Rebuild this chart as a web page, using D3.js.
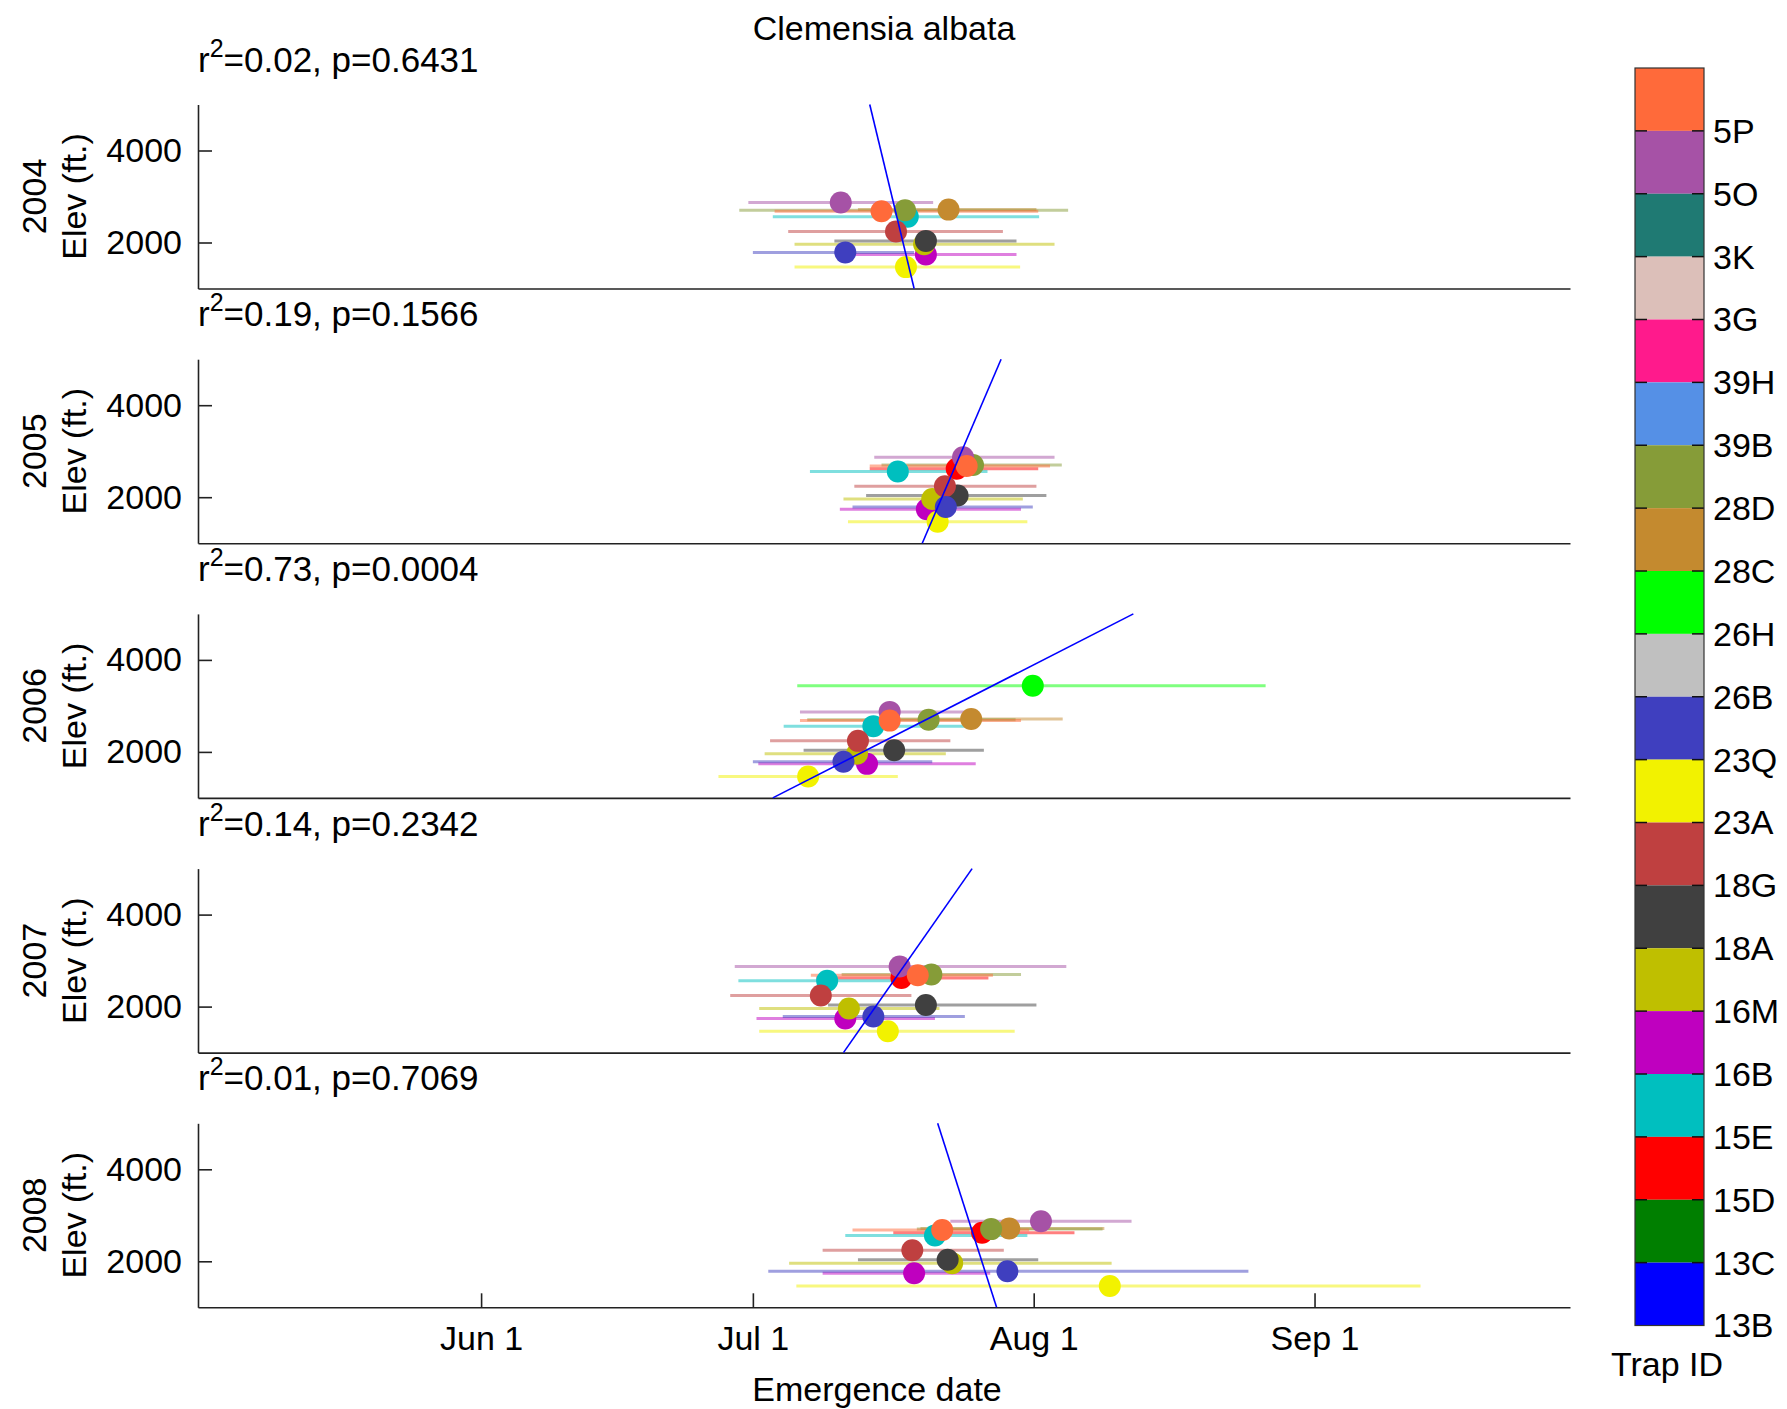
<!DOCTYPE html>
<html>
<head>
<meta charset="utf-8">
<script src="https://cdn.jsdelivr.net/npm/d3@7"></script>
<style>
  body { margin: 0; background: #fff; }
  svg text { font-family: "Liberation Sans", Arial, Helvetica, sans-serif; fill: #000; }
</style>
</head>
<body>
<div id="chart"></div>
<script>
// colorbar order, top to bottom
var trapIds = ['5P', '5O', '3K', '3G', '39H', '39B', '28D', '28C', '26H', '26B',
  '23Q', '23A', '18G', '18A', '16M', '16B', '15E', '15D', '13C', '13B'];
var trapColors = ['#ff6a3a', '#a652a6', '#1f7a73', '#dcbfb9', '#ff1a8c', '#5590e6',
  '#869c38', '#c48a2f', '#00ff00', '#c0c0c0', '#3f3fbf', '#f2f200', '#bf4040',
  '#404040', '#bfbf00', '#bf00bf', '#00bfbf', '#ff0000', '#007f00', '#0000ff'];

// trap elevations (ft)
var siteIds = ['5O', '5P', '28D', '28C', '26H', '15E', '15D', '18G', '18A', '16M', '16B', '23Q', '23A'];
var siteElev = [2870, 2680, 2700, 2715, 3440, 2560, 2620, 2240, 2035, 1960, 1740, 1785, 1465];

var years = [2004, 2005, 2006, 2007, 2008];
var rSquared = ['0.02', '0.19', '0.73', '0.14', '0.01'];
var pValues = ['0.6431', '0.1566', '0.0004', '0.2342', '0.7069'];
// regression line: day of year where it crosses 1000 ft and 5000 ft
var fitAt1000 = [199.8, 200.7, 184.2, 192.0, 208.9];
var fitAt5000 = [194.9, 209.4, 224.0, 206.2, 202.4];

// [trap, mean emergence day, first day, last day]  (day of year)
var obs2004 = [
  ['5O', 191.7, 181.5, 201.9], ['5P', 196.2, 184.4, 213.5], ['28D', 198.8, 180.5, 216.8],
  ['15E', 199.1, 184.2, 213.6], ['28C', 203.6, 193.6, 213.3], ['18G', 197.8, 185.9, 209.6],
  ['18A', 201.1, 191.0, 211.1], ['16M', 200.9, 186.6, 215.3], ['23Q', 192.2, 182.0, 199.8],
  ['16B', 201.1, 191.8, 211.1], ['23A', 198.9, 186.6, 211.5]
];
var obs2005 = [
  ['15E', 198.0, 188.3, 207.9], ['5O', 205.2, 195.4, 215.3], ['15D', 204.5, 194.9, 213.5],
  ['5P', 205.6, 194.9, 214.8], ['28D', 206.3, 196.2, 216.1], ['18G', 203.2, 193.2, 213.3],
  ['18A', 204.6, 194.5, 214.4], ['16M', 201.8, 192.0, 211.8], ['16B', 201.2, 191.6, 211.6],
  ['23Q', 203.3, 193.0, 212.9], ['23A', 202.4, 192.5, 212.3]
];
var obs2006 = [
  ['26H', 212.9, 186.9, 238.6], ['5O', 197.1, 187.2, 206.4], ['5P', 197.1, 187.2, 211.6],
  ['28D', 201.4, 188.0, 211.0], ['28C', 206.1, 197.6, 216.2], ['15E', 195.3, 185.4, 206.4],
  ['18G', 193.6, 183.9, 203.8], ['18A', 197.6, 187.6, 207.5], ['16M', 193.5, 183.3, 203.3],
  ['23Q', 192.0, 182.0, 201.8], ['16B', 194.6, 182.6, 206.6], ['23A', 188.1, 178.2, 198.0]
];
var obs2007 = [
  ['5O', 198.2, 180.0, 216.6], ['15D', 198.4, 189.0, 208.0], ['5P', 200.2, 188.4, 208.5],
  ['28D', 201.7, 191.8, 211.6], ['15E', 190.2, 180.4, 197.7], ['18G', 189.5, 179.5, 199.5],
  ['18A', 201.1, 190.3, 213.3], ['16M', 192.6, 182.7, 202.6], ['16B', 192.2, 182.4, 202.1],
  ['23Q', 195.3, 185.3, 205.4], ['23A', 196.9, 182.7, 210.9]
];
var obs2008 = [
  ['5O', 213.8, 203.8, 223.8], ['5P', 202.9, 193.0, 212.5], ['15E', 202.1, 192.2, 212.3],
  ['15D', 207.3, 197.5, 217.5], ['28D', 208.3, 200.1, 220.6], ['28C', 210.3, 200.5, 220.8],
  ['18G', 199.6, 189.7, 209.7], ['18A', 203.5, 193.6, 213.5], ['16M', 204.0, 186.0, 221.6],
  ['23Q', 210.1, 183.7, 236.7], ['16B', 199.8, 189.7, 208.2], ['23A', 221.4, 186.8, 255.7]
];
var observations = [obs2004, obs2005, obs2006, obs2007, obs2008];

var tickDays = [152, 182, 213, 244];
var tickLabels = ['Jun 1', 'Jul 1', 'Aug 1', 'Sep 1'];
var elevTicks = [2000, 4000];
var elevRange = [1000, 5000];
var dayRange = [120.75, 272.2];

var W = 1787, H = 1409;
var left = 198, right = 1570;
var panelTop = 104.5, panelStep = 254.7, panelH = 184;
var fontSize = 34;

var svg = d3.select('#chart').append('svg')
  .attr('width', W)
  .attr('height', H);

var x = d3.scaleLinear().domain(dayRange).range([0, right - left]);
var y = d3.scaleLinear().domain(elevRange).range([panelH, 0]);

var colorOf = d3.scaleOrdinal().domain(trapIds).range(trapColors);
var elevOf = d3.scaleOrdinal().domain(siteIds).range(siteElev);
var order = function(id) { return trapIds.indexOf(id); };

svg.append('text')
  .attr('x', (left + right) / 2)
  .attr('y', 40)
  .attr('text-anchor', 'middle')
  .style('font-size', fontSize + 'px')
  .text('Clemensia albata');

years.forEach(function(year, i) {
  var top = panelTop + i * panelStep;
  var g = svg.append('g')
    .attr('transform', 'translate(' + left + ',' + top + ')');

  var isLast = i === years.length - 1;

  var xAxis = d3.axisBottom(x)
    .tickValues(isLast ? tickDays : [])
    .tickSizeInner(-14)
    .tickSizeOuter(0)
    .tickPadding(19)
    .tickFormat(function(d) { return tickLabels[tickDays.indexOf(d)]; });

  var yAxis = d3.axisLeft(y)
    .tickValues(elevTicks)
    .tickSizeInner(-14)
    .tickSizeOuter(0)
    .tickPadding(16)
    .tickFormat(d3.format('d'));

  var ax = g.append('g')
    .attr('transform', 'translate(0,' + panelH + ')')
    .call(xAxis);
  var ay = g.append('g').call(yAxis);

  [ax, ay].forEach(function(a) {
    a.selectAll('path, line').attr('stroke', '#222').attr('stroke-width', 1.6);
    a.selectAll('text')
      .style('font-size', fontSize + 'px')
      .style('font-family', '"Liberation Sans", Arial, sans-serif')
      .attr('fill', '#000');
  });

  // year and axis label, rotated
  g.append('text')
    .attr('transform', 'translate(' + (34 - left) + ',' + (panelH / 2) + ') rotate(-90)')
    .attr('text-anchor', 'middle')
    .attr('dy', '0.35em')
    .style('font-size', fontSize + 'px')
    .text(year);
  g.append('text')
    .attr('transform', 'translate(' + (74 - left) + ',' + (panelH / 2) + ') rotate(-90)')
    .attr('text-anchor', 'middle')
    .attr('dy', '0.35em')
    .style('font-size', fontSize + 'px')
    .text('Elev (ft.)');

  // fit statistics
  var stat = g.append('text')
    .attr('x', 0)
    .attr('y', -33)
    .style('font-size', '35px');
  stat.append('tspan').text('r');
  stat.append('tspan')
    .attr('dy', -15)
    .style('font-size', '25px')
    .text('2');
  stat.append('tspan')
    .attr('dy', 15)
    .text('=' + rSquared[i] + ', p=' + pValues[i]);

  var data = observations[i].slice().sort(function(a, b) {
    return order(b[0]) - order(a[0]);
  });

  g.selectAll('line.range')
    .data(data)
    .enter()
    .append('line')
    .attr('class', 'range')
    .attr('x1', function(d) { return x(d[2]); })
    .attr('x2', function(d) { return x(d[3]); })
    .attr('y1', function(d) { return y(elevOf(d[0])); })
    .attr('y2', function(d) { return y(elevOf(d[0])); })
    .attr('stroke', function(d) { return colorOf(d[0]); })
    .attr('stroke-opacity', 0.5)
    .attr('stroke-width', 3);

  g.selectAll('circle.mean')
    .data(data)
    .enter()
    .append('circle')
    .attr('class', 'mean')
    .attr('cx', function(d) { return x(d[1]); })
    .attr('cy', function(d) { return y(elevOf(d[0])); })
    .attr('r', 11)
    .attr('fill', function(d) { return colorOf(d[0]); });

  g.append('line')
    .attr('x1', x(fitAt1000[i]))
    .attr('y1', y(elevRange[0]))
    .attr('x2', x(fitAt5000[i]))
    .attr('y2', y(elevRange[1]))
    .attr('stroke', '#0000ff')
    .attr('stroke-width', 1.6);
});

svg.append('text')
  .attr('x', 877)
  .attr('y', 1401)
  .attr('text-anchor', 'middle')
  .style('font-size', fontSize + 'px')
  .text('Emergence date');

// colorbar
var cbLeft = 1635, cbWidth = 69;
var cb = d3.scaleBand().domain(trapIds).range([68, 1325.5]).paddingInner(0);
var bar = svg.append('g');

bar.selectAll('rect')
  .data(trapIds)
  .enter()
  .append('rect')
  .attr('x', cbLeft)
  .attr('y', function(d) { return cb(d); })
  .attr('width', cbWidth)
  .attr('height', cb.bandwidth())
  .attr('fill', function(d) { return colorOf(d); });

bar.selectAll('line.tl')
  .data(trapIds.slice(0, -1))
  .enter()
  .append('line')
  .attr('class', 'tl')
  .attr('x1', cbLeft)
  .attr('x2', cbLeft + 12)
  .attr('y1', function(d) { return cb(d) + cb.bandwidth(); })
  .attr('y2', function(d) { return cb(d) + cb.bandwidth(); })
  .attr('stroke', '#111')
  .attr('stroke-width', 1.5);
bar.selectAll('line.tr')
  .data(trapIds.slice(0, -1))
  .enter()
  .append('line')
  .attr('class', 'tr')
  .attr('x1', cbLeft + cbWidth - 12)
  .attr('x2', cbLeft + cbWidth)
  .attr('y1', function(d) { return cb(d) + cb.bandwidth(); })
  .attr('y2', function(d) { return cb(d) + cb.bandwidth(); })
  .attr('stroke', '#111')
  .attr('stroke-width', 1.5);

bar.append('rect')
  .attr('x', cbLeft)
  .attr('y', 68)
  .attr('width', cbWidth)
  .attr('height', 1325.5 - 68)
  .attr('fill', 'none')
  .attr('stroke', '#333')
  .attr('stroke-width', 1.2);

bar.selectAll('text')
  .data(trapIds)
  .enter()
  .append('text')
  .attr('x', cbLeft + cbWidth + 9)
  .attr('y', function(d) { return cb(d) + cb.bandwidth(); })
  .attr('dy', '0.35em')
  .style('font-size', fontSize + 'px')
  .text(function(d) { return d; });

svg.append('text')
  .attr('x', 1667)
  .attr('y', 1376)
  .attr('text-anchor', 'middle')
  .style('font-size', fontSize + 'px')
  .text('Trap ID');
</script>
</body>
</html>
